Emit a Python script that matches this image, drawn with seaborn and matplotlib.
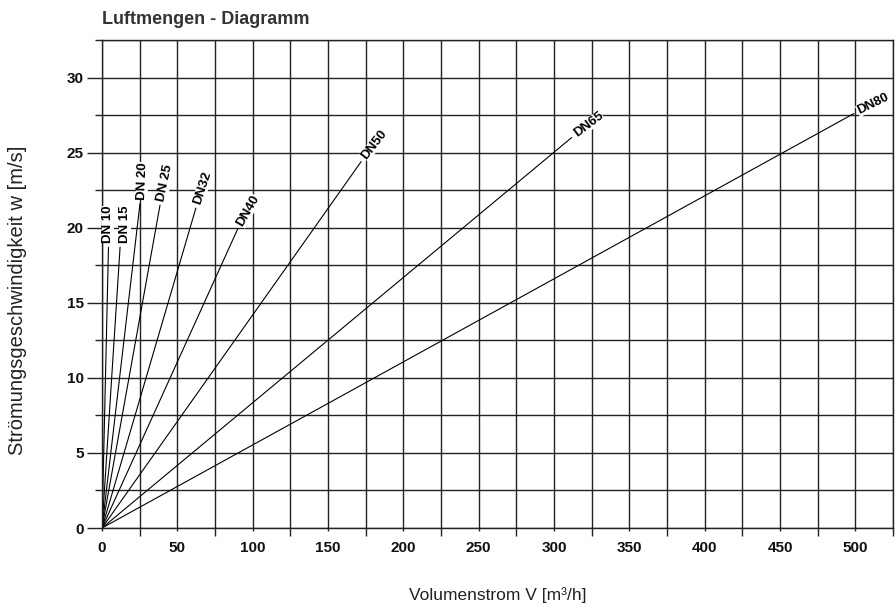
import numpy as np
import pandas as pd
import matplotlib
matplotlib.use("Agg")
import matplotlib.pyplot as plt
import seaborn as sns
from matplotlib.ticker import MultipleLocator

# ---- data ----
series = ["DN 10", "DN 15", "DN 20", "DN 25", "DN32", "DN40", "DN50", "DN65", "DN80"]
v_end = [4.3, 12.0, 25.2, 38.5, 62.3, 90.0, 172.0, 311.7, 499.0]   # m3/h
w_end = [18.7, 18.7, 21.6, 21.5, 21.3, 19.9, 24.4, 26.0, 27.6]      # m/s
x_ticks = [0, 50, 100, 150, 200, 250, 300, 350, 400, 450, 500]
y_ticks = [0, 5, 10, 15, 20, 25, 30]

rows = []
for s, v, w in zip(series, v_end, w_end):
    rows.append({"series": s, "V": 0.0, "w": 0.0})
    rows.append({"series": s, "V": v, "w": w})
df = pd.DataFrame(rows)

sns.set_theme(style="white")
plt.rcParams["font.family"] = ["Liberation Sans", "DejaVu Sans"]

fig = plt.figure(figsize=(8.96, 6.10), dpi=100)
ax = fig.add_axes([102/896, 1-528/610, (893-102)/896, (528-40)/610])

sns.lineplot(data=df, x="V", y="w", units="series", estimator=None,
             color="black", linewidth=0.8, ax=ax, legend=False)

ax.set_xlim(0, 525)
ax.set_ylim(0, 32.5)
ax.xaxis.set_minor_locator(MultipleLocator(25))
ax.yaxis.set_minor_locator(MultipleLocator(2.5))
ax.set_xticks(x_ticks)
ax.set_yticks(y_ticks)
ax.set_xticklabels([str(t) for t in x_ticks], fontsize=11, fontweight="bold")
ax.set_yticklabels([str(t) for t in y_ticks], fontsize=11, fontweight="bold")

gc = "#222222"
ax.grid(True, which="both", color=gc, linewidth=1.0)
for sp in ax.spines.values():
    sp.set_visible(True)
    sp.set_color(gc)
    sp.set_linewidth(1.0)

ax.tick_params(axis="y", which="major", left=True, length=11, width=1.0, color=gc, pad=2)
ax.tick_params(axis="y", which="minor", left=True, length=5, width=1.0, color=gc)
ax.tick_params(axis="x", which="major", bottom=True, length=2, width=1.0, color=gc, pad=7)
ax.tick_params(axis="x", which="minor", bottom=True, length=6, width=1.0, color=gc)
ax.tick_params(which="both", labelcolor="#111111")

ax.set_xlabel("Volumenstrom V [m³/h]", fontsize=12.5, color="#222222", va="center")
ax.xaxis.set_label_coords(0.5, (528-595)/488)
ax.set_ylabel("Strömungsgeschwindigkeit w [m/s]", fontsize=14.5, color="#222222", va="center")
ax.yaxis.set_label_coords((18-102)/791, (528-300)/488)

fig.text(102/896, 1-20/610, "Luftmengen - Diagramm", fontsize=13, fontweight="bold",
         color="#333333", ha="left", va="center")

rotations = [90, 90, 88, 78, 72, 60, 52, 37, 26]
side_nudge = [0.0, 3.5, 1.0, 0, 0, 0, 0, 0, 0]   # points, sideways shift of label
for s, v, w, r, n in zip(series, v_end, w_end, rotations, side_nudge):
    ang = np.deg2rad(r)
    ax.annotate(s, xy=(v, w), xytext=(3*np.cos(ang) + n, 3*np.sin(ang)),
                textcoords="offset points", rotation=r, rotation_mode="anchor",
                ha="left", va="center", fontsize=9.5, fontweight="bold", color="black",
                bbox=dict(boxstyle="square,pad=0.0", fc="white", ec="none"),
                annotation_clip=False)

fig.savefig("out.png", dpi=100)
